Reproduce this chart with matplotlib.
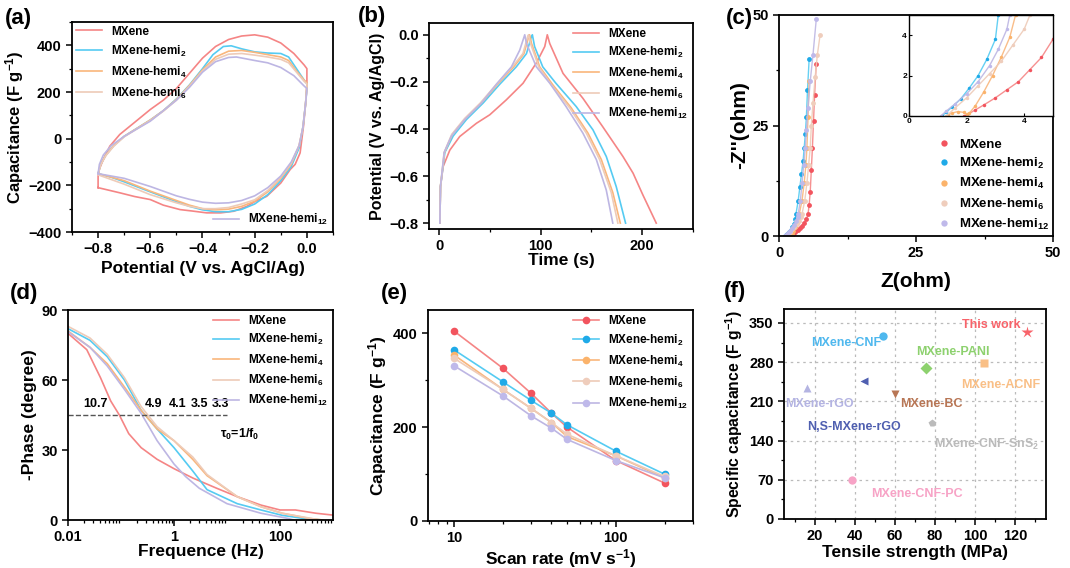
import matplotlib
matplotlib.use("Agg")
import matplotlib.pyplot as plt
from matplotlib.ticker import AutoMinorLocator, LogLocator, NullFormatter

plt.rcParams['font.family'] = ['Liberation Sans', 'DejaVu Sans']
plt.rcParams['font.weight'] = 'bold'
plt.rcParams['axes.labelweight'] = 'bold'
plt.rcParams['mathtext.fontset'] = 'custom'
plt.rcParams['mathtext.rm'] = 'Liberation Sans:bold'
plt.rcParams['mathtext.bf'] = 'Liberation Sans:bold'
plt.rcParams['mathtext.it'] = 'Liberation Sans:bold'
plt.rcParams['mathtext.default'] = 'bf'

W, H = 1070, 568

names = ['MXene', 'MXene-hemi$_2$', 'MXene-hemi$_4$', 'MXene-hemi$_6$', 'MXene-hemi$_{12}$']
line_cols = ['#F58585', '#55CBF2', '#F9B67C', '#EECBB8', '#BDB6E3']
dot_cols = ['#F2545E', '#1FAAE8', '#FBB36B', '#EFCDBC', '#BFB9EA']

# (a) CV loops
cv_mx_v = [-0.800, -0.800, -0.795, -0.780, -0.755, -0.717, -0.660, -0.600, -0.550, -0.500, -0.450, -0.400,
           -0.350, -0.300, -0.250, -0.200, -0.150, -0.100, -0.050, -0.010, 0.000, 0.000, -0.005, -0.013,
           -0.026, -0.045, -0.064, -0.100, -0.154, -0.200, -0.230, -0.280, -0.330, -0.384, -0.440, -0.486,
           -0.550, -0.600, -0.660, -0.717, -0.800]
cv_mx_c = [-210, -160, -130, -89, -32, 18, 70, 125, 165, 215, 280, 345, 395, 425, 440, 445, 435, 410, 365,
           315, 300, 230, 150, 54, -61, -110, -132, -190, -247, -270, -290, -311, -318, -318, -310, -304,
           -285, -261, -248, -232, -210]
cv_h2_v = [-0.80, -0.79, -0.77, -0.74, -0.70, -0.65, -0.60, -0.55, -0.50, -0.45, -0.40, -0.36, -0.32, -0.29,
           -0.25, -0.20, -0.15, -0.10, -0.07, -0.04, -0.01, 0.00, 0.00, -0.005, -0.015, -0.03, -0.06, -0.10,
           -0.15, -0.20, -0.25, -0.30, -0.35, -0.40, -0.45, -0.50, -0.60, -0.70, -0.75, -0.80]
cv_h2_c = [-150, -110, -70, -30, 10, 45, 80, 120, 170, 230, 300, 360, 395, 398, 385, 372, 367, 365, 350, 300,
           250, 235, 220, 150, 50, -40, -120, -180, -240, -280, -303, -313, -313, -305, -290, -270, -228,
           -185, -165, -150]
cv_h4_v = [-0.80, -0.79, -0.77, -0.74, -0.70, -0.65, -0.60, -0.55, -0.50, -0.45, -0.40, -0.35, -0.30, -0.25,
           -0.20, -0.15, -0.10, -0.07, -0.04, -0.01, 0.00, 0.00, -0.005, -0.015, -0.03, -0.06, -0.10, -0.15,
           -0.20, -0.25, -0.30, -0.35, -0.40, -0.45, -0.50, -0.60, -0.70, -0.80]
cv_h4_c = [-150, -110, -70, -30, 10, 45, 80, 120, 168, 228, 295, 350, 375, 378, 370, 360, 350, 335, 290, 250,
           240, 225, 150, 50, -30, -110, -170, -228, -268, -290, -302, -305, -300, -285, -265, -225, -180,
           -150]
cv_h6_v = [-0.80, -0.79, -0.77, -0.74, -0.70, -0.65, -0.60, -0.55, -0.50, -0.45, -0.40, -0.35, -0.30, -0.25,
           -0.20, -0.15, -0.10, -0.07, -0.04, -0.01, 0.00, 0.00, -0.005, -0.015, -0.03, -0.06, -0.10, -0.15,
           -0.20, -0.25, -0.30, -0.35, -0.40, -0.45, -0.50, -0.60, -0.70, -0.80]
cv_h6_c = [-152, -112, -72, -32, 8, 43, 78, 118, 165, 225, 290, 340, 362, 365, 358, 350, 340, 325, 285, 245,
           235, 225, 150, 50, -30, -105, -165, -222, -262, -280, -295, -300, -300, -290, -275, -240, -195,
           -155]
cv_h12_v = [-0.80, -0.795, -0.78, -0.75, -0.70, -0.60, -0.50, -0.45, -0.40, -0.35, -0.30, -0.27, -0.20, -0.15,
            -0.10, -0.05, -0.01, 0.00, 0.00, -0.005, -0.015, -0.03, -0.06, -0.10, -0.15, -0.20, -0.25, -0.30,
            -0.35, -0.40, -0.45, -0.50, -0.60, -0.70, -0.80]
cv_h12_c = [-150, -110, -70, -30, 10, 75, 165, 220, 285, 330, 348, 350, 335, 325, 305, 270, 225, 215, 210,
            150, 50, -30, -100, -160, -210, -245, -265, -275, -277, -272, -260, -245, -205, -170, -150]

# (b) GCD
gcd_mx_t = [0.7, 1.3, 3.9, 10.5, 20.3, 36.7, 49.8, 66, 82.6, 95.7, 104, 106.5, 108.9, 122, 141.6, 161, 181,
            191, 200.6, 213.8]
gcd_mx_v = [-0.8, -0.645, -0.56, -0.49, -0.432, -0.376, -0.34, -0.277, -0.206, -0.12, -0.05, 0.0, -0.037,
            -0.164, -0.27, -0.39, -0.517, -0.588, -0.68, -0.8]
gcd_h2_t = [0.7, 1.3, 5.6, 13.8, 26.9, 43.3, 59.7, 76, 86, 90.8, 91.8, 94, 102, 115, 135, 151.5, 164.6, 174.4,
            183.6]
gcd_h2_v = [-0.8, -0.645, -0.5, -0.43, -0.36, -0.29, -0.21, -0.136, -0.08, -0.008, 0.0, -0.05, -0.136, -0.206,
            -0.305, -0.404, -0.517, -0.645, -0.8]
gcd_h4_t = [0.7, 1.3, 5.2, 12.8, 25.5, 41.5, 57.5, 73.5, 83.5, 88.2, 89.0, 91, 99, 112, 130, 146.6, 159.7,
            171, 178.4]
gcd_h4_v = [-0.8, -0.645, -0.5, -0.425, -0.358, -0.29, -0.21, -0.136, -0.08, -0.008, 0.0, -0.037, -0.136,
            -0.213, -0.31, -0.418, -0.53, -0.67, -0.8]
gcd_h6_t = [0.7, 1.3, 5.0, 12.4, 25.0, 40.5, 56.5, 72.0, 82.5, 87.2, 88.0, 90, 98, 110.5, 128.5, 145, 158,
            169.5, 176]
gcd_h6_v = [-0.8, -0.645, -0.5, -0.423, -0.356, -0.29, -0.21, -0.136, -0.08, -0.008, 0.0, -0.037, -0.136,
            -0.213, -0.31, -0.418, -0.53, -0.67, -0.8]
gcd_h12_t = [0.7, 1.3, 4.9, 12.1, 25.2, 41.6, 56.4, 71.2, 79.4, 84.3, 86, 95.7, 109, 125, 141.6, 154.8, 164.6,
             171]
gcd_h12_v = [-0.8, -0.645, -0.5, -0.43, -0.36, -0.29, -0.21, -0.136, -0.065, 0.0, -0.037, -0.136, -0.206,
             -0.305, -0.418, -0.53, -0.66, -0.8]

# (c) Nyquist
eis_mx_re = [1.9, 2.0, 2.3, 2.6, 3.0, 3.4, 3.8, 4.2, 4.6, 5.0, 5.3, 5.5, 5.7, 5.9, 6.1, 6.3, 6.5, 6.8]
eis_mx_im = [0, 0.05, 0.3, 0.55, 0.9, 1.3, 1.7, 2.3, 2.9, 3.8, 5, 7, 10, 15, 20, 26, 32, 39]
eis_h2_re = [1.15, 1.3, 1.5, 1.8, 2.1, 2.4, 2.7, 3.0, 3.1, 3.5, 3.8, 4.1, 4.4, 4.6, 4.8, 5.0, 5.2, 5.5]
eis_h2_im = [0, 0.2, 0.45, 0.85, 1.4, 2.0, 2.8, 3.8, 5, 8, 11, 14, 17, 20, 23, 27, 33, 40]
eis_h4_re = [1.35, 1.5, 1.7, 1.9, 2.0, 2.1, 2.3, 2.6, 2.9, 3.2, 3.5, 3.7, 4.2, 4.6, 4.9, 5.1, 5.3, 5.5]
eis_h4_im = [0.05, 0.15, 0.22, 0.18, 0.08, 0.15, 0.5, 1.2, 2.0, 2.9, 3.9, 5, 8, 12, 16, 20, 27, 35]
eis_h6_re = [1.3, 1.6, 2.0, 2.4, 2.8, 3.2, 3.6, 4.0, 4.2, 4.7, 5.1, 5.4, 5.7, 5.9, 6.2, 6.6, 7.0, 7.5]
eis_h6_im = [0, 0.4, 0.9, 1.5, 2.1, 2.7, 3.5, 4.3, 5, 8, 12, 16, 20, 25, 30, 36, 41, 45.5]
eis_h12_re = [1.1, 1.3, 1.6, 2.0, 2.4, 2.8, 3.1, 3.4, 3.5, 3.9, 4.2, 4.5, 4.8, 5.0, 5.3, 5.7, 6.2, 6.8]
eis_h12_im = [0, 0.25, 0.6, 1.1, 1.7, 2.5, 3.3, 4.3, 5, 8, 12, 16, 20, 24, 29, 35, 41, 49]

# (d) Bode phase
bode_mx_f = [0.01, 0.0226, 0.041, 0.064, 0.093, 0.14, 0.24, 0.48, 1, 2.26, 6.4, 15.6, 43.6, 100, 195, 475, 1000]
bode_mx_p = [80, 73, 61, 51, 45, 37, 31, 26, 22, 18, 13.6, 10, 6.4, 4.3, 4.3, 2.9, 2.1]
bode_h2_f = [0.01, 0.026, 0.055, 0.116, 0.24, 0.48, 1, 2.26, 4.2, 15.6, 43.6, 110, 270, 640]
bode_h2_p = [82, 77, 70, 60, 47, 39, 31, 21, 13, 7, 4.3, 2, 0.7, 0]
bode_h4_f = [0.01, 0.026, 0.055, 0.116, 0.24, 0.48, 1, 2.26, 4.2, 15.6, 43.6, 110, 350, 640]
bode_h4_p = [81, 74, 67, 57, 47, 39, 34, 26, 19, 10, 5.7, 2.9, 0.7, 0]
bode_h6_f = [0.01, 0.026, 0.055, 0.116, 0.24, 0.48, 1, 2.26, 4.2, 15.6, 43.6, 110, 480]
bode_h6_p = [83, 78, 71, 61, 48.6, 40, 34, 27, 19.5, 10, 5.7, 2.9, 0.3]
bode_h12_f = [0.01, 0.026, 0.055, 0.116, 0.24, 0.48, 1, 1.66, 3.0, 10, 43.6, 140, 180]
bode_h12_p = [80.7, 74, 66, 56, 45.7, 34, 24, 18.6, 13.6, 7, 2.9, 0.7, 0]
tau_vals = ['10.7', '4.9', '4.1', '3.5', '3.3']
tau_x = [0.033, 0.41, 1.16, 3.0, 7.4]

# (e) rate capability
scan_rate = [10, 20, 30, 40, 50, 100, 200]
rate_mx = [405, 326, 272, 230, 200, 129, 81]
rate_h2 = [365, 297, 257, 230, 205, 149, 100]
rate_h4 = [354, 281, 240, 210, 180, 139, 92]
rate_h6 = [347, 281, 240, 210, 185, 139, 95]
rate_h12 = [331, 267, 224, 198, 174, 129, 92]

# (f) comparison
cmp_names = ['This work', 'MXene-CNF', 'MXene-PANI', 'MXene-ACNF', 'N,S-MXene-rGO', 'MXene-rGO',
             'MXene-BC', 'MXene-CNF-SnS$_2$', 'MXene-CNF-PC']
cmp_strength = [126, 54, 75.5, 104.5, 44.5, 16, 60, 78.5, 38.5]
cmp_cap = [334, 327, 270, 279, 246, 234, 223, 171, 70]
cmp_label_x = [108, 35.5, 89, 113, 39.5, 22, 78, 106, 71]
cmp_label_y = [346, 314, 298, 239, 164, 205, 205, 134, 45]
cmp_markers = ['*', 'o', 'D', 's', '<', '^', 'v', 'p', 'o']
cmp_cols = ['#F8636A', '#4FB8EE', '#8DD16E', '#F9BF86', '#4F5FB0', '#B4B4E2', '#B87655', '#BBBBBB', '#F7A3C6']


def rect(x0, y0, x1, y1):
    return [x0 / W, 1 - y1 / H, (x1 - x0) / W, (y1 - y0) / H]


def style(ax, minor=True):
    for s in ax.spines.values():
        s.set_linewidth(1.3)
    ax.tick_params(which='major', direction='out', length=4, width=1.1, labelsize=10.5,
                   top=False, right=False)
    ax.tick_params(which='minor', direction='out', length=2.2, width=0.9, top=False, right=False)
    if minor:
        ax.xaxis.set_minor_locator(AutoMinorLocator(2))
        ax.yaxis.set_minor_locator(AutoMinorLocator(2))


fig = plt.figure(figsize=(W / 100, H / 100), dpi=100)

# ---- (a)
ax = fig.add_axes(rect(72, 22, 333, 232))
cv_v = [cv_mx_v, cv_h2_v, cv_h4_v, cv_h6_v, cv_h12_v]
cv_c = [cv_mx_c, cv_h2_c, cv_h4_c, cv_h6_c, cv_h12_c]
hs = []
for i in range(5):
    h, = ax.plot(cv_v[i], cv_c[i], color=line_cols[i], lw=1.2, label=names[i])
    hs.append(h)
ax.set_xlim(-0.9, 0.1)
ax.set_ylim(-400, 500)
ax.set_xticks([-0.8, -0.6, -0.4, -0.2, 0.0])
ax.set_yticks([-400, -200, 0, 200, 400])
style(ax)
ax.set_xlabel('Potential (V vs. AgCl/Ag)', fontsize=12.5, labelpad=3)
ax.set_ylabel('Capacitance (F g$^{-1}$)', fontsize=12, labelpad=2)
leg1 = ax.legend(handles=hs[:4], loc='upper left', frameon=False, fontsize=8.5, handlelength=2.2,
                 labelspacing=0.5, borderaxespad=0.1, borderpad=0.2)
ax.add_artist(leg1)
ax.legend(handles=hs[4:], loc='lower right', frameon=False, fontsize=8.5, handlelength=2.2,
          borderaxespad=0.2, borderpad=0.2)

# ---- (b)
ax = fig.add_axes(rect(429, 23, 693, 229))
gcd_t = [gcd_mx_t, gcd_h2_t, gcd_h4_t, gcd_h6_t, gcd_h12_t]
gcd_v = [gcd_mx_v, gcd_h2_v, gcd_h4_v, gcd_h6_v, gcd_h12_v]
for i in range(5):
    ax.plot(gcd_t[i], gcd_v[i], color=line_cols[i], lw=1.2, label=names[i])
ax.set_xlim(-10, 250)
ax.set_ylim(-0.825, 0.05)
ax.set_xticks([0, 100, 200])
ax.set_yticks([0.0, -0.2, -0.4, -0.6, -0.8])
style(ax)
ax.set_xlabel('Time (s)', fontsize=12.5, labelpad=0)
ax.set_ylabel('Potential (V vs. Ag/AgCl)', fontsize=11.5, labelpad=3)
ax.legend(loc='upper right', frameon=False, fontsize=8.5, handlelength=2.2, labelspacing=0.45,
          borderaxespad=0.2, borderpad=0.2)

# ---- (c)
ax = fig.add_axes(rect(779, 15, 1053, 236))
ins = fig.add_axes(rect(909, 15, 1053, 116))
eis_re = [eis_mx_re, eis_h2_re, eis_h4_re, eis_h6_re, eis_h12_re]
eis_im = [eis_mx_im, eis_h2_im, eis_h4_im, eis_h6_im, eis_h12_im]
for i in range(5):
    for a_ in (ax, ins):
        a_.plot(eis_re[i], eis_im[i], color=line_cols[i], lw=1.0, alpha=0.9)
    ax.plot(eis_re[i], eis_im[i], 'o', color=dot_cols[i], ms=3.5, mec='none', label=names[i])
    ins.plot(eis_re[i], eis_im[i], 'o', color=dot_cols[i], ms=2.5, mec='none')
ax.set_xlim(0, 50)
ax.set_ylim(0, 50)
ax.set_xticks([0, 25, 50])
ax.set_yticks([0, 25, 50])
style(ax)
ax.set_xlabel('Z(ohm)', fontsize=15, labelpad=8)
ax.set_ylabel("-Z''(ohm)", fontsize=15, labelpad=2)
ax.legend(loc='lower right', frameon=False, fontsize=9.5, handlelength=1.0, handletextpad=0.6,
          labelspacing=0.4, borderaxespad=0.1, borderpad=0.2, markerscale=1.3)
ins.set_xlim(0, 5)
ins.set_ylim(0, 5)
ins.set_xticks([0, 2, 4])
ins.set_yticks([0, 2, 4])
for s in ins.spines.values():
    s.set_linewidth(1.0)
ins.tick_params(direction='in', length=2, width=0.8, labelsize=6, pad=1.5)

# ---- (d)
ax = fig.add_axes(rect(68, 310, 333, 520))
bode_f = [bode_mx_f, bode_h2_f, bode_h4_f, bode_h6_f, bode_h12_f]
bode_p = [bode_mx_p, bode_h2_p, bode_h4_p, bode_h6_p, bode_h12_p]
for i in range(5):
    ax.plot(bode_f[i], bode_p[i], color=line_cols[i], lw=1.2, label=names[i])
ax.set_xscale('log')
ax.set_xlim(0.01, 1000)
ax.set_ylim(0, 90)
ax.set_xticks([0.01, 1, 100])
ax.set_xticklabels(['0.01', '1', '100'])
ax.set_yticks([0, 30, 60, 90])
style(ax, minor=False)
ax.xaxis.set_minor_locator(LogLocator(base=10, subs=range(2, 10), numticks=20))
ax.xaxis.set_minor_formatter(NullFormatter())
ax.set_xlabel('Frequence (Hz)', fontsize=12.5, labelpad=0)
ax.set_ylabel('-Phase (degree)', fontsize=12.5, labelpad=3)
ax.plot([0.01, 10], [45, 45], ls='--', color='#555555', lw=1.0)
for tx, tv in zip(tau_x, tau_vals):
    ax.text(tx, 47, tv, fontsize=9, ha='center', va='bottom')
ax.text(7.4, 36.5, r'$\tau_0$=1/f$_0$', fontsize=9, ha='left', va='center')
ax.legend(loc='upper right', frameon=False, fontsize=8.5, handlelength=2.2, labelspacing=0.45,
          borderaxespad=0.2, borderpad=0.2)

# ---- (e)
ax = fig.add_axes(rect(428, 310, 693, 521))
rates = [rate_mx, rate_h2, rate_h4, rate_h6, rate_h12]
for i in range(5):
    ax.plot(scan_rate, rates[i], '-o', color=line_cols[i], mfc=dot_cols[i], mec='none', ms=5.5,
            lw=1.2, label=names[i])
ax.set_xscale('log')
ax.set_xlim(6.9, 300)
ax.set_ylim(0, 450)
ax.set_xticks([10, 100])
ax.set_xticklabels(['10', '100'])
ax.set_yticks([0, 200, 400])
style(ax, minor=False)
ax.xaxis.set_minor_locator(LogLocator(base=10, subs=range(2, 10), numticks=20))
ax.xaxis.set_minor_formatter(NullFormatter())
ax.yaxis.set_minor_locator(AutoMinorLocator(2))
ax.set_xlabel('Scan rate (mV s$^{-1}$)', fontsize=12.5, labelpad=1)
ax.set_ylabel('Capacitance (F g$^{-1}$)', fontsize=12.5, labelpad=3)
ax.legend(loc='upper right', frameon=False, fontsize=8.5, handlelength=2.2, labelspacing=0.5,
          borderaxespad=0.2, borderpad=0.2)

# ---- (f)
ax = fig.add_axes(rect(784, 309, 1046, 519))
for i in range(len(cmp_names)):
    ms = 9 if cmp_markers[i] == '*' else 6
    ax.plot(cmp_strength[i], cmp_cap[i], cmp_markers[i], color=cmp_cols[i], ms=ms, mec='none', zorder=3)
    ax.text(cmp_label_x[i], cmp_label_y[i], cmp_names[i], color=cmp_cols[i], fontsize=9,
            ha='center', va='center')
ax.set_xlim(4.5, 135.5)
ax.set_ylim(0, 375)
ax.set_xticks([20, 40, 60, 80, 100, 120])
ax.set_yticks([0, 70, 140, 210, 280, 350])
style(ax)
ax.grid(True, which='major', ls=(0, (2, 3)), color='#BBBBBB', lw=0.9)
ax.set_axisbelow(True)
ax.set_xlabel('Tensile strength (MPa)', fontsize=12.5, labelpad=1)
ax.set_ylabel('Specific capacitance (F g$^{-1}$)', fontsize=11.3, labelpad=3)

# panel letters
for lab, x, y in [('(a)', 5, 8), ('(b)', 358, 6), ('(c)', 726, 8),
                  ('(d)', 10, 283), ('(e)', 381, 283), ('(f)', 724, 281)]:
    fig.text(x / W, 1 - y / H, lab, fontsize=16, fontweight='bold', ha='left', va='top')

fig.savefig('out.png', dpi=100)
